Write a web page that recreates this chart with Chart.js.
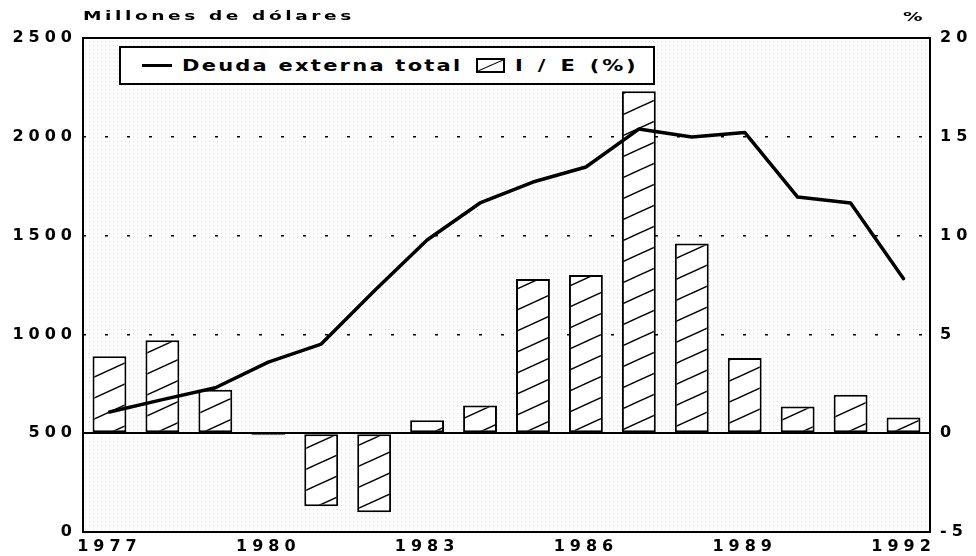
<!DOCTYPE html>
<html>
<head>
<meta charset="utf-8">
<script src="https://cdn.jsdelivr.net/npm/chart.js@4"></script>
<style>
    body { margin: 0; background: #fff; }
    #wrap { position: relative; width: 976px; height: 556px; overflow: hidden; }
    #chart { position: absolute; left: 0; top: 0; }
    .lbl {
        position: absolute;
        font-family: "DejaVu Sans", sans-serif;
        font-weight: bold;
        color: #000;
        white-space: nowrap;
        transform-origin: left center;
    }
    #unitLeft { left: 83px; top: 10px; font-size: 12px; line-height: 12px; letter-spacing: 2.3px; transform: scaleX(1.55); }
    #unitRight { left: 903px; top: 10px; font-size: 13px; line-height: 13px; transform: scaleX(1.5); }
    #legend {
        position: absolute; left: 119px; top: 46px; width: 536px; height: 39px;
        box-sizing: border-box; border: 2px solid #000; background: #fff;
    }
    #legLine { position: absolute; left: 142px; top: 64px; width: 30px; height: 3px; background: #000; }
    #legBox {
        position: absolute; left: 476px; top: 58px; width: 29px; height: 15px;
        box-sizing: border-box; border: 2px solid #000;
        background: linear-gradient(to bottom right, transparent calc(50% - 1px), #000 50%, transparent calc(50% + 1px));
    }
    .legText { top: 59px; font-size: 15px; line-height: 15px; letter-spacing: 2px; transform: scaleX(1.4); }
</style>
</head>
<body>
<div id="wrap">
    <canvas id="chart" width="976" height="556"></canvas>
    <div class="lbl" id="unitLeft">Millones de dólares</div>
    <div class="lbl" id="unitRight">%</div>
    <div id="legend"></div>
    <div id="legLine"></div>
    <div class="lbl legText" style="left:182px; letter-spacing:1.6px">Deuda externa total</div>
    <div id="legBox"></div>
    <div class="lbl legText" style="left:515px; word-spacing:1.5px">I / E (%)</div>
</div>
<script>
// Years on the x axis
const years = ['1977', '1978', '1979', '1980', '1981', '1982', '1983', '1984',
               '1985', '1986', '1987', '1988', '1989', '1990', '1991', '1992'];

// Deuda externa total (millones de dólares), left axis
const deudaTotal = [607, 670, 730, 860, 951, 1220, 1478, 1665,
                    1771, 1847, 2039, 1999, 2022, 1695, 1665, 1282];

// I / E (%), right axis
const ieRatio = [3.9, 4.7, 2.2, -0.1, -3.7, -4.0, 0.65, 1.4,
                 7.8, 8.0, 17.3, 9.6, 3.8, 1.35, 1.95, 0.8];

// Axis ranges [min, max, step]
const leftAxis = [0, 2500, 500];
const rightAxis = [-5, 20, 5];
const dottedLines = [1000, 1500, 2000];

const tickFont = { family: 'DejaVu Sans', weight: 'bold', size: 16 };

// Hatch pattern for the bars
function makeHatch() {
    const w = 46, h = 21;
    const c = document.createElement('canvas');
    c.width = w; c.height = h;
    const g = c.getContext('2d');
    g.fillStyle = '#fff';
    g.fillRect(0, 0, w, h);
    g.strokeStyle = '#000';
    g.lineWidth = 1.5;
    for (let k = -1; k <= 1; k++) {
        g.beginPath();
        g.moveTo(-w, 2 * h + k * h);
        g.lineTo(2 * w, -h + k * h);
        g.stroke();
    }
    return g.createPattern(c, 'repeat');
}

// Light stipple used as plot background
function makeStipple() {
    const c = document.createElement('canvas');
    c.width = 4; c.height = 4;
    const g = c.getContext('2d');
    g.fillStyle = '#fff';
    g.fillRect(0, 0, 4, 4);
    g.fillStyle = '#dadada';
    g.fillRect(1, 1, 1, 1);
    return g.createPattern(c, 'repeat');
}

const ctx = document.getElementById('chart').getContext('2d');
const stipple = makeStipple();

const framePlugin = {
    id: 'frame',
    beforeDraw(chart) {
        const a = chart.chartArea;
        const c = chart.ctx;
        c.save();
        c.fillStyle = stipple;
        c.fillRect(a.left, a.top, a.right - a.left, a.bottom - a.top);
        c.restore();
        c.letterSpacing = '5px';
    },
    afterDatasetsDraw(chart) {
        const a = chart.chartArea;
        const c = chart.ctx;
        c.save();
        c.strokeStyle = '#000';
        c.lineWidth = 2;
        c.strokeRect(a.left, a.top, a.right - a.left, a.bottom - a.top);
        c.restore();
    }
};

const plainNumber = function(value) { return String(value); };

new Chart(ctx, {
    type: 'bar',
    data: {
        labels: years,
        datasets: [
            {
                type: 'line',
                label: 'Deuda externa total',
                data: deudaTotal,
                yAxisID: 'y',
                borderColor: '#000',
                borderWidth: 3.5,
                pointRadius: 0,
                tension: 0,
                borderJoinStyle: 'round',
                borderCapStyle: 'round',
                order: 0
            },
            {
                type: 'bar',
                label: 'I / E (%)',
                data: ieRatio,
                yAxisID: 'y1',
                backgroundColor: makeHatch(),
                borderColor: '#000',
                borderWidth: 2,
                borderSkipped: false,
                categoryPercentage: 1,
                barPercentage: 0.64,
                order: 1
            }
        ]
    },
    options: {
        responsive: false,
        animation: false,
        layout: { padding: { top: 38, left: 0, right: 0, bottom: 0 } },
        plugins: {
            legend: { display: false },
            tooltip: { enabled: false }
        },
        scales: {
            x: {
                grid: { display: false, drawTicks: false },
                border: { display: false },
                ticks: {
                    color: '#000',
                    font: tickFont,
                    padding: 5,
                    autoSkip: false,
                    maxRotation: 0,
                    callback: function(value, index) {
                        return index % 3 === 0 ? years[index] : '';
                    }
                },
                afterFit: function(scale) { scale.height = 24; }
            },
            y: {
                position: 'left',
                min: leftAxis[0],
                max: leftAxis[1],
                ticks: { stepSize: leftAxis[2], color: '#000', font: tickFont, padding: 6, callback: plainNumber },
                grid: {
                    drawTicks: false,
                    lineWidth: 1.5,
                    color: function(c) {
                        return c.tick && dottedLines.includes(c.tick.value) ? '#000' : 'rgba(0,0,0,0)';
                    }
                },
                border: { display: false, dash: [3, 19] },
                afterFit: function(scale) { scale.width = 83; }
            },
            y1: {
                position: 'right',
                min: rightAxis[0],
                max: rightAxis[1],
                ticks: { stepSize: rightAxis[2], color: '#000', font: tickFont, padding: 10, callback: plainNumber },
                grid: {
                    drawTicks: false,
                    lineWidth: 2,
                    color: function(c) {
                        return c.tick && c.tick.value === 0 ? '#000' : 'rgba(0,0,0,0)';
                    }
                },
                border: { display: false },
                afterFit: function(scale) { scale.width = 46; }
            }
        }
    },
    plugins: [framePlugin]
});
</script>
</body>
</html>
